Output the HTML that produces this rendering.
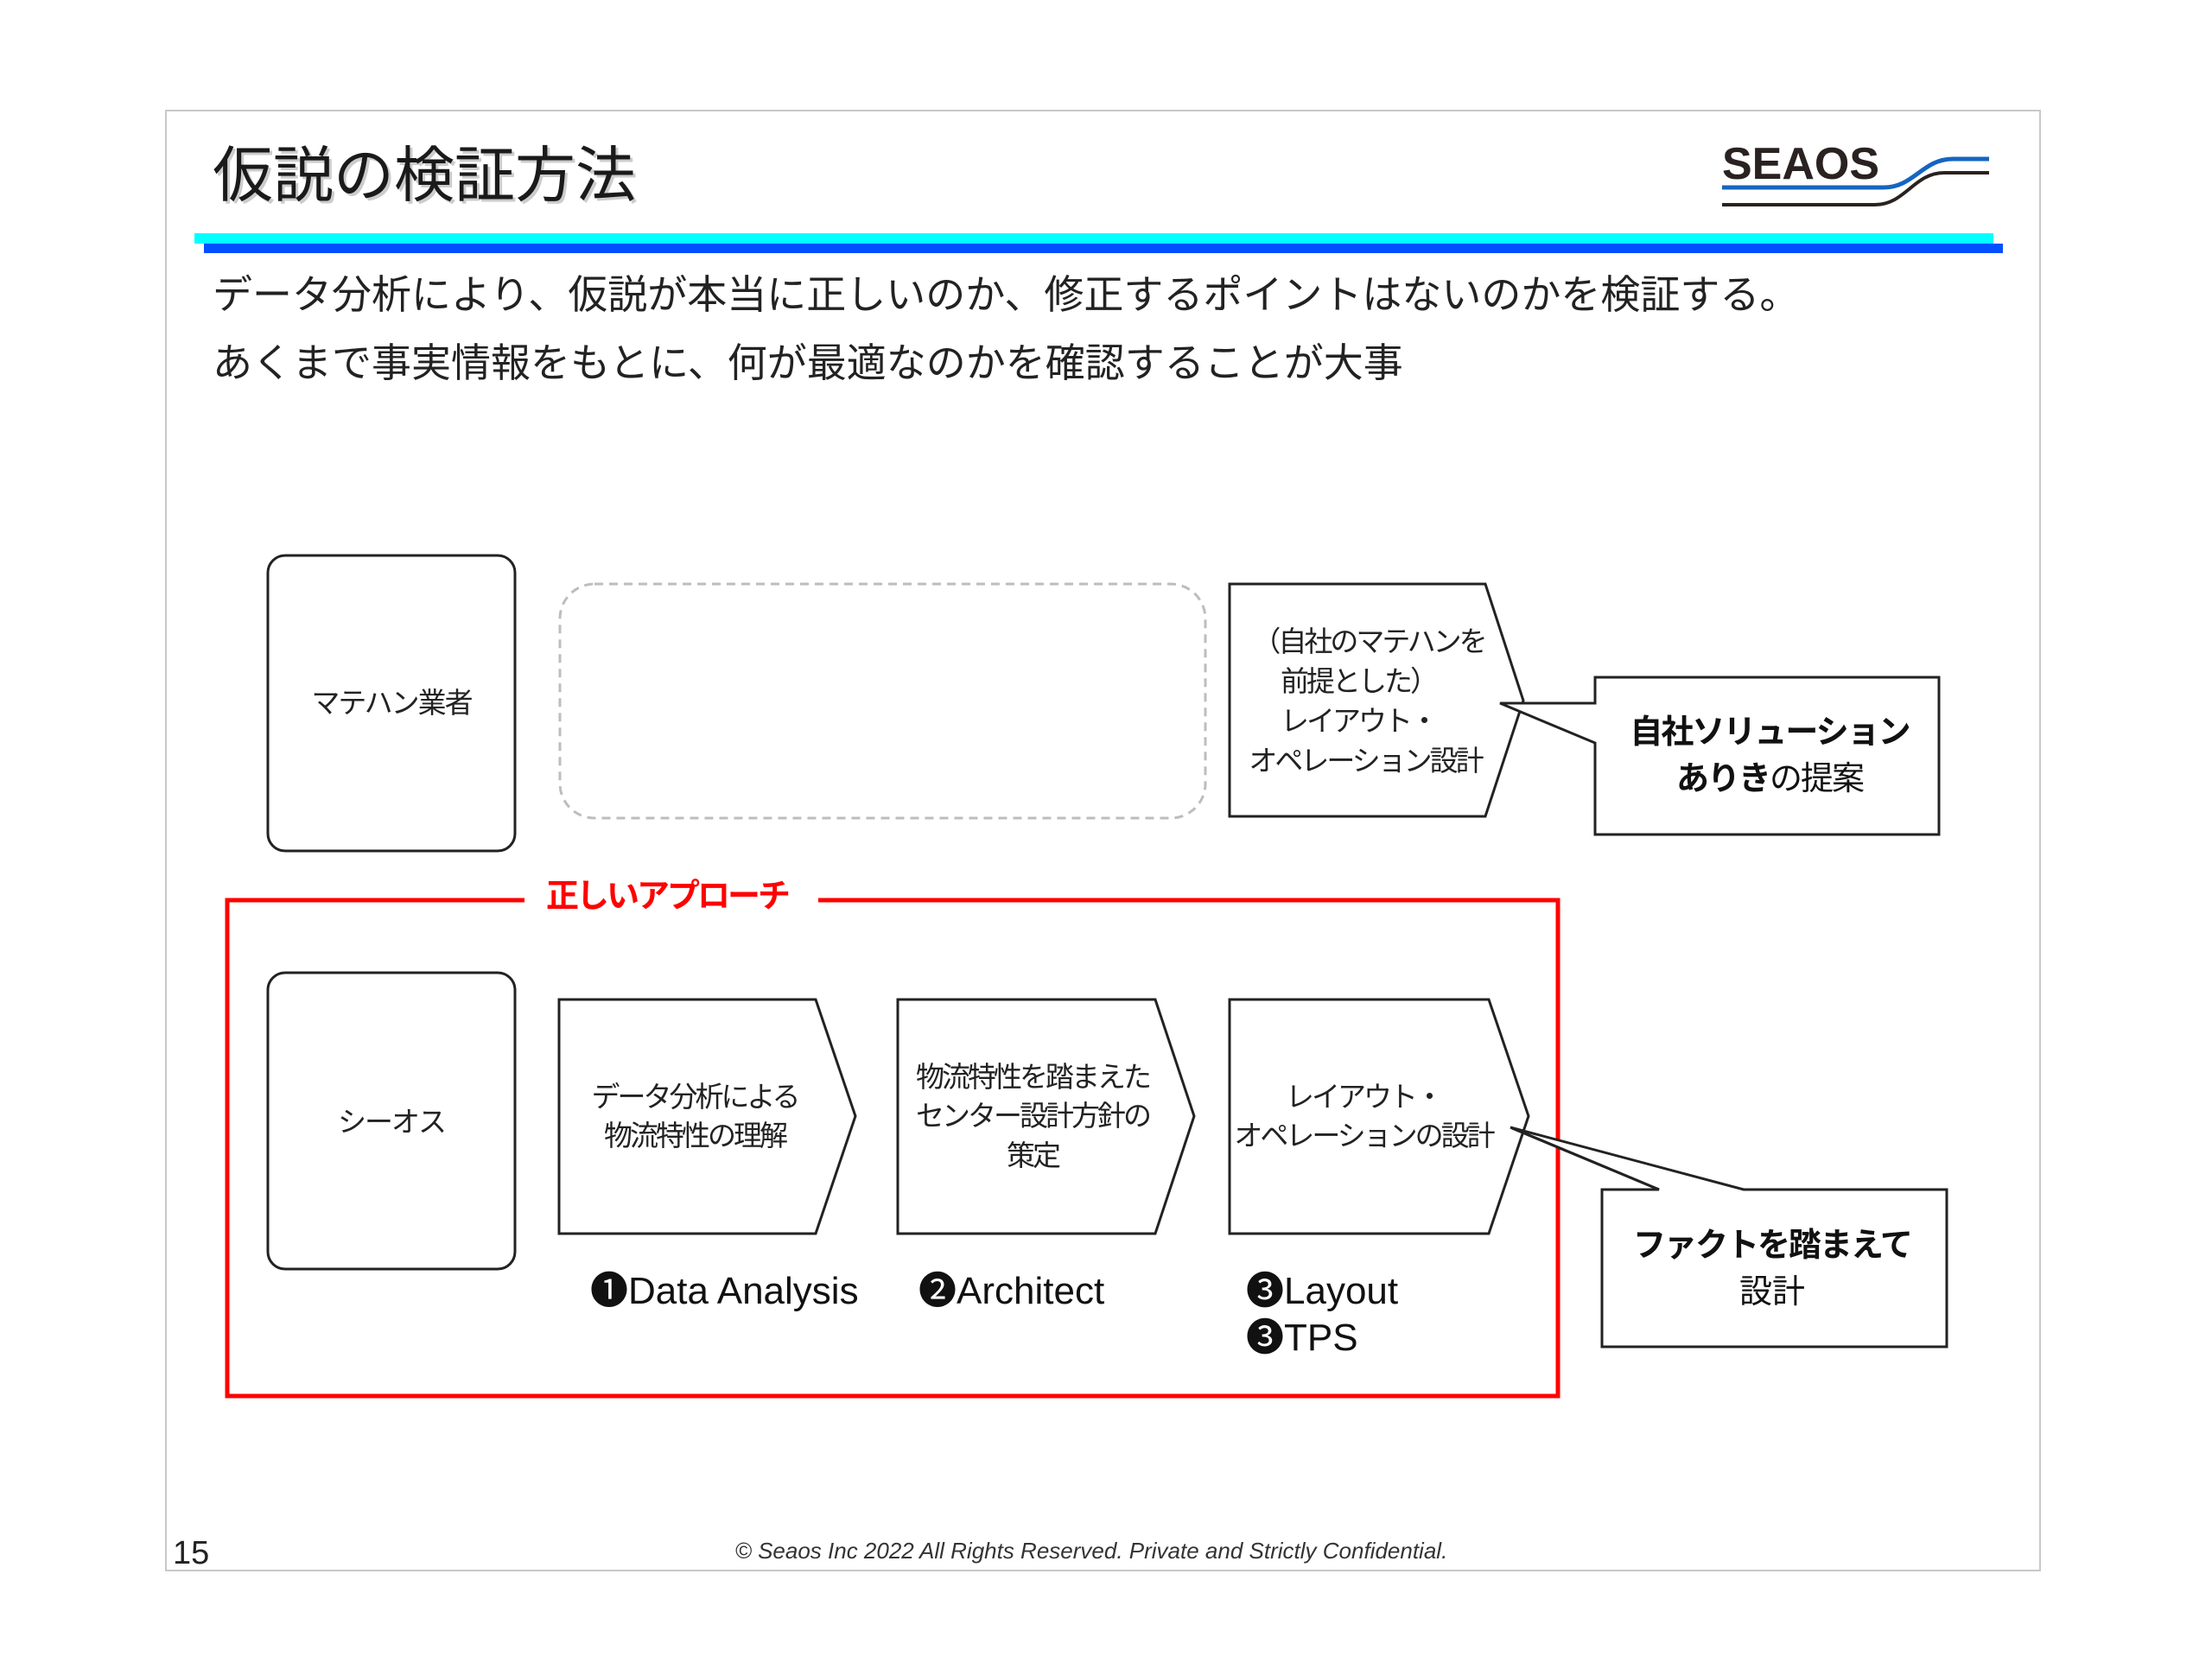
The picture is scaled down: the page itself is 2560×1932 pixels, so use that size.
<!DOCTYPE html>
<html><head><meta charset="utf-8"><style>
html,body{margin:0;padding:0;background:#fff;}
body{width:2560px;height:1932px;overflow:hidden;}
svg{display:block;}
text{font-family:"Liberation Sans","Noto Sans CJK JP",sans-serif;}
</style></head><body>
<svg width="2560" height="1932" viewBox="0 0 2560 1932" xmlns="http://www.w3.org/2000/svg">
<rect x="0" y="0" width="2560" height="1932" fill="#fff"/>
<rect x="192" y="128" width="2169" height="1690" fill="#fff" stroke="#c8c8c8" stroke-width="2"/>
<!-- title -->
<text x="249" y="230" font-size="70" fill="#9a9a9a" opacity="0.5">仮説の検証方法</text>
<text x="246" y="227" font-size="70" fill="#1a1a1a">仮説の検証方法</text>
<!-- logo -->
<text x="1993" y="207" font-size="52" font-weight="bold" fill="#2a2220" font-family="Liberation Sans, sans-serif">SEAOS</text>
<path d="M1993 217 L2180 217 C2215 217 2225 184 2260 184 L2302 184" fill="none" stroke="#1565c0" stroke-width="5"/>
<path d="M1993 237 L2170 237 C2205 237 2215 200 2250 200 L2302 200" fill="none" stroke="#2a2220" stroke-width="4"/>
<!-- header bars -->
<rect x="225" y="270" width="2082" height="12" fill="#00ffff"/>
<rect x="236" y="282" width="2082" height="11" fill="#0050ff"/>
<!-- body text -->
<text x="246" y="357" font-size="46" fill="#222">データ分析により、仮説が本当に正しいのか、修正するポイントはないのかを検証する。</text>
<text x="246" y="436" font-size="46" fill="#222">あくまで事実情報をもとに、何が最適なのかを確認することが大事</text>
<!-- row 1 -->
<rect x="310" y="643" width="286" height="342" rx="20" fill="#fff" stroke="#222" stroke-width="3"/>
<text x="453" y="825" font-size="33" text-anchor="middle" fill="#222" letter-spacing="-2">マテハン業者</text>
<rect x="648" y="676" width="747" height="271" rx="40" fill="none" stroke="#bdbdbd" stroke-width="3" stroke-dasharray="10,7"/>
<path d="M1423 676 L1719 676 L1763 811 L1719 945 L1423 945 Z" fill="#fff" stroke="#222" stroke-width="3"/>
<g font-size="33" text-anchor="middle" fill="#222" letter-spacing="-3">
<text x="1584" y="754">（自社のマテハンを</text>
<text x="1572" y="800">前提とした）</text>
<text x="1572" y="846">レイアウト・</text>
<text x="1580" y="892">オペレーション設計</text>
</g>
<path d="M1846 784 L2244 784 L2244 966 L1846 966 L1846 860 L1736 814 L1846 814 Z" fill="#fff" stroke="#222" stroke-width="3"/>
<text x="2048" y="860" font-size="38" font-weight="bold" text-anchor="middle" fill="#111" letter-spacing="-2">自社ソリューション</text>
<text x="2048" y="914" font-size="38" text-anchor="middle" fill="#111" letter-spacing="-2"><tspan font-weight="bold">ありき</tspan>の提案</text>
<!-- red frame -->
<path d="M607 1042 L263 1042 L263 1616 L1803 1616 L1803 1042 L947 1042" fill="none" stroke="#ff0000" stroke-width="5"/>
<text x="632" y="1050" font-size="38" font-weight="bold" fill="#ff0000" letter-spacing="-3">正しいアプローチ</text>
<!-- row 2 -->
<rect x="310" y="1126" width="286" height="343" rx="20" fill="#fff" stroke="#222" stroke-width="3"/>
<text x="453" y="1310" font-size="33" text-anchor="middle" fill="#222" letter-spacing="-2">シーオス</text>
<path d="M647 1157 L944 1157 L990 1292 L944 1428 L647 1428 Z" fill="#fff" stroke="#222" stroke-width="3"/>
<path d="M1039 1157 L1337 1157 L1382 1292 L1337 1428 L1039 1428 Z" fill="#fff" stroke="#222" stroke-width="3"/>
<path d="M1423 1157 L1723 1157 L1769 1292 L1723 1428 L1423 1428 Z" fill="#fff" stroke="#222" stroke-width="3"/>
<g font-size="33" text-anchor="middle" fill="#222" letter-spacing="-3">
<text x="804" y="1281">データ分析による</text>
<text x="804" y="1326">物流特性の理解</text>
<text x="1195" y="1258">物流特性を踏まえた</text>
<text x="1195" y="1303">センター設計方針の</text>
<text x="1195" y="1349">策定</text>
<text x="1578" y="1281">レイアウト・</text>
<text x="1578" y="1326">オペレーションの設計</text>
</g>
<path d="M1920 1377 L1748 1305 L2018 1377 L2253 1377 L2253 1559 L1854 1559 L1854 1377 Z" fill="#fff" stroke="#222" stroke-width="3"/>
<path d="M1750 1306 L1920 1377" stroke="#222" stroke-width="3"/>
<text x="2051" y="1454" font-size="38" font-weight="bold" text-anchor="middle" fill="#111" letter-spacing="-2">ファクトを踏まえて</text>
<text x="2051" y="1508" font-size="38" text-anchor="middle" fill="#111">設計</text>
<g font-size="44" fill="#111">
<text x="683" y="1509">❶Data Analysis</text>
<text x="1063" y="1509">❷Architect</text>
<text x="1442" y="1509">❸Layout</text>
<text x="1442" y="1563">❸TPS</text>
</g>
<!-- footer -->
<text x="200" y="1810" font-size="38" fill="#222">15</text>
<text x="1263" y="1804" font-size="26" font-style="italic" text-anchor="middle" fill="#333">© Seaos Inc  2022  All Rights Reserved. Private and Strictly Confidential.</text>
</svg>
</body></html>
